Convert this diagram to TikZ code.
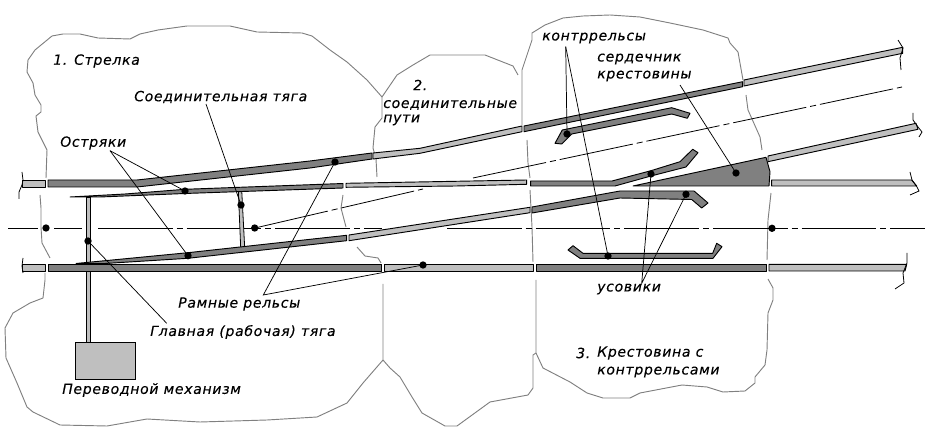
\documentclass[tikz,border=0pt]{standalone}
\usepackage{fontspec}
\setmainfont{DejaVu Sans}
\usetikzlibrary{positioning}

\begin{document}
\begin{tikzpicture}[
      x=0.75pt,y=-0.75pt,
      darkrail/.style={
         draw=black,
         line width=0.7pt,
         line join=round,
         fill=black!50
      },
      lightrail/.style={
         draw=black,
         line width=0.7pt,
         line join=round,
         fill=black!25
      },
      rod/.style={
         draw=black,
         line width=0.6pt,
         fill=black!25
      },
      zone/.style={draw=black!50,line width=0.7pt},
      breakline/.style={draw=black,line width=0.6pt},
      axis/.style={
         draw=black,
         line width=0.6pt,
         dash pattern=on 56pt off 3pt on 4.5pt off 3pt
      },
      leader/.style={draw=black,line width=0.55pt},
      dot/.style={circle,fill=black,inner sep=0pt,minimum size=5.5pt},
      point/.style={coordinate},
      caption/.style={
         anchor=west,
         inner sep=0pt,
         font=\fontsize{10.5pt}{12pt}\selectfont\itshape\addfontfeature{LetterSpace=5,FakeBold=0.25}
      }
    ]
    \useasboundingbox (0,0) rectangle (928,434);
    % zone borders
    \draw[zone] (382,97) -- (367,80) -- (347,62) -- (330,50) -- (312,36) -- (302,33) -- (257,32) -- (230,26) -- (187,26) -- (158,30) -- (140,34) -- (130,39) -- (98,38) -- (80,34) -- (63,34) -- (52,36) -- (35,50) -- (28,60) -- (27,72) -- (33,83) -- (35,95) -- (41,105) -- (41,112) -- (36,116) -- (38,132) -- (47,150) -- (46,178);
    \draw[zone] (40,195) -- (41,208) -- (41,227) -- (42,243) -- (50,258);
    \draw[zone] (45,273) -- (45,280) -- (43,298) -- (30,303) -- (13,313) -- (5,328) -- (6,358) -- (17,383) -- (27,407) -- (33,412) -- (60,425) -- (107,426) -- (147,419) -- (200,422) -- (267,420) -- (317,417) -- (347,403) -- (363,383) -- (383,360) -- (383,284);
    \draw[zone] (382,97) -- (382,118) -- (375,127) -- (373,148) -- (376,159) -- (377,177);
    \draw[zone] (343,195) -- (341,208) -- (346,227);
    \draw[zone] (357,247) -- (365,256) -- (378,258) -- (381,263);
    \draw[zone] (382,97) -- (397,75) -- (413,65) -- (430,55) -- (485,55) -- (513,66) -- (518,75);
    \draw[zone] (532,40) -- (522,70) -- (522,125);
    \draw[zone] (527,140) -- (528,163) -- (530,178);
    \draw[zone] (530,190) -- (532,227) -- (533,262);
    \draw[zone] (383,360) -- (390,368) -- (400,377) -- (412,397) -- (422,413) -- (445,426) -- (457,426) -- (490,402) -- (528,395) -- (533,388) -- (533,355) -- (536,353) -- (536,280);
    \draw[zone] (536,353) -- (543,368) -- (570,382) -- (587,393) -- (603,398) -- (630,398) -- (640,393) -- (682,385) -- (707,387) -- (723,392) -- (745,391) -- (755,383) -- (755,377) -- (765,365) -- (767,350) -- (768,313) -- (773,300) -- (773,288) -- (768,279);
    \draw[zone] (532,40) -- (532,33) -- (545,25) -- (563,18) -- (583,16) -- (610,15) -- (640,17) -- (670,23) -- (703,30) -- (728,38) -- (730,43) -- (738,52) -- (743,80);
    \draw[zone] (746,95) -- (748,110) -- (760,137) -- (762,150);
    \draw[zone] (771,193) -- (768,220) -- (767,260);
    % center lines
    \draw[draw=black,line width=0.6pt] (8,228) -- (38,228);
    \draw[draw=black,line width=0.6pt] (54,228) -- (82,228);
    \draw[axis] (98,228) -- (382,228);
    \draw[axis] (447,228) -- (925,228);
    \draw[axis] (255,228) -- (423,189);
    \draw[axis] (473,178) -- (902,87);
    % rods
    \draw[rod] (86,197) rectangle (90.5,342);
    \draw[rod] (238.3,190) -- (241.7,190) -- (244.7,248) -- (240.7,248) -- cycle;
    \draw[rod] (75.3,342.3) rectangle (135.3,379.3);
    % rails
    \draw[lightrail] (22.7,180) rectangle (45.3,187);
    \draw[darkrail] (48,180) -- (137,180) -- (310,161) -- (372,153) -- (372,159) -- (310,168) -- (137,187) -- (48,187) -- cycle;
    \draw[lightrail] (373,153) -- (420,148.3) -- (522,126) -- (522,131.7) -- (420,153.3) -- (373,159) -- cycle;
    \draw[darkrail] (524,126) -- (742.7,81.7) -- (742.7,86.7) -- (524,131.7) -- cycle;
    \draw[lightrail] (744,80) -- (902.7,47.3) -- (902.7,53.3) -- (744,86) -- cycle;
    \draw[darkrail] (70,197) -- (125,194) -- (185,189.3) -- (343,183.5) -- (343,188) -- (185,193.5) -- (100,197) -- cycle;
    \draw[lightrail] (346,183.3) -- (526.7,180) -- (526.7,184.3) -- (456,186) -- (346,187.3) -- cycle;
    \draw[darkrail] (530.7,181) -- (612,181) -- (651,170.7) -- (680,161.7) -- (692.7,149.3) -- (698,152.7) -- (686,167) -- (651,176) -- (615,186) -- (530.7,186) -- cycle;
    \draw[darkrail] (76,263.5) -- (188,252.7) -- (346.7,235.3) -- (346.7,240.7) -- (188,258.3) -- (105,263.5) -- cycle;
    \draw[lightrail] (349,235) -- (530,207.3) -- (530,212.7) -- (349,240.7) -- cycle;
    \draw[darkrail] (532,207) -- (620,191) -- (694,191) -- (708,203) -- (701.7,208) -- (691.7,199.5) -- (620,198) -- (532,213) -- cycle;
    \draw[darkrail] (633,186) -- (766,157.3) -- (770,171.7) -- (769,186) -- cycle;
    \draw[lightrail] (768,156) -- (916,123.3) -- (918,129.3) -- (768,161.7) -- cycle;
    \draw[lightrail] (771.7,180) -- (911.7,180) -- (916.7,186) -- (771.7,186) -- cycle;
    \draw[lightrail] (22.7,264.3) rectangle (45.3,271);
    \draw[darkrail] (48,264.3) rectangle (381.7,271);
    \draw[lightrail] (384,264.3) rectangle (533.7,271);
    \draw[darkrail] (536,264.3) rectangle (766.7,271);
    \draw[lightrail] (769,264.3) -- (906.7,264.3) -- (905,271) -- (769,271) -- cycle;
    % guard rails
    \draw[darkrail] (555,143.3) -- (562.3,130) -- (671.7,107.7) -- (690,113.3) -- (687.3,118.3) -- (671.7,114) -- (571.7,134) -- (561.7,144) -- cycle;
    \draw[darkrail] (568,250) -- (573,245.7) -- (583,253.3) -- (712.7,253.3) -- (716.7,243.3) -- (722,246.7) -- (713,258.3) -- (580,258.3) -- cycle;
    % broken ends
    \draw[breakline] (22,172) -- (23,180) -- (22,185) -- (19,192) -- (19,199);
    \draw[breakline] (23,258) -- (22,266) -- (23,273);
    \draw[breakline] (898,40) -- (903,48) -- (900,58) -- (901,70);
    \draw[breakline] (913,113) -- (913,120) -- (918,127) -- (922,132) -- (919,137);
    \draw[breakline] (910,172) -- (912,180) -- (917,187) -- (919,191) -- (910,195);
    \draw[breakline] (907,253) -- (907,263) -- (903,273) -- (904,283) -- (895,289);
    % dots
    \node (d46) [dot] at (46,228) {};
    \node (dmain) [dot] at (88,241) {};
    \node (dtop) [dot] at (185,191) {};
    \node (dlow) [dot] at (188,255.7) {};
    \node (dlink) [dot] at (241,205) {};
    \node (dbranch) [dot] at (254.7,228) {};
    \node (dframe) [dot] at (335,162) {};
    \node (dframeb) [dot] at (423,265) {};
    \node (dguard) [dot] at (567,134) {};
    \node (dguardb) [dot] at (608,256) {};
    \node (dwing) [dot] at (651,174) {};
    \node (dwingb) [dot] at (686,194.3) {};
    \node (dfrog) [dot] at (736,173) {};
    \node (d772) [dot] at (772,228.3) {};
    % texts
    \node (strelka) [caption] at (53,61) {1. Стрелка};
    \node (tyaga) [caption] at (134,97) {Соединительная тяга};
    \node (ostr) [caption] at (60,143) {Остряки};
    \node (two) [caption] at (413,85) {2.};
    \node (soed) [caption] at (383,105) {соединительные};
    \node (puti) [caption] at (383,120) {пути};
    \node (kontr) [caption] at (542,38) {контррельсы};
    \node (serd) [caption] at (597,59) {сердечник};
    \node (krest) [caption] at (597,76) {крестовины};
    \node (ramn) [caption] at (178,304) {Рамные рельсы};
    \node (glav) [caption] at (150,332) {Главная (рабочая) тяга};
    \node (perev) [caption] at (62,390) {Переводной механизм};
    \node (usov) [caption] at (597,289) {усовики};
    \node (three) [caption] at (576,353) {3.};
    \node (krestk) [caption] at (597,353) {Крестовина с};
    \node (kontrr) [caption] at (597,372) {контррельсами};
    % leaders
    \coordinate (lostr) at (110,150.7);
    \coordinate (ltyaga) at (206,104);
    \coordinate (lglav) at (166.7,323.3);
    \coordinate (lramn) at (263.3,295);
    \coordinate (lkontr) at (565.7,46.7);
    \coordinate (lserd) at (680,85);
    \coordinate (lusov) at (641.7,283.3);
    \draw[leader] (lostr) -- (dtop.center);
    \draw[leader] (lostr) -- (dlow.center);
    \draw[leader] (ltyaga) -- (dlink.center);
    \draw[leader] (dmain.center) -- (lglav);
    \draw[leader] (dframe.center) -- (lramn) -- (dframeb.center);
    \draw[leader] (lkontr) -- (dguard.center);
    \draw[leader] (lkontr) -- (dguardb.center);
    \draw[leader] (lserd) -- (dfrog.center);
    \draw[leader] (dwing.center) -- (lusov) -- (dwingb.center);
\end{tikzpicture}
\end{document}
